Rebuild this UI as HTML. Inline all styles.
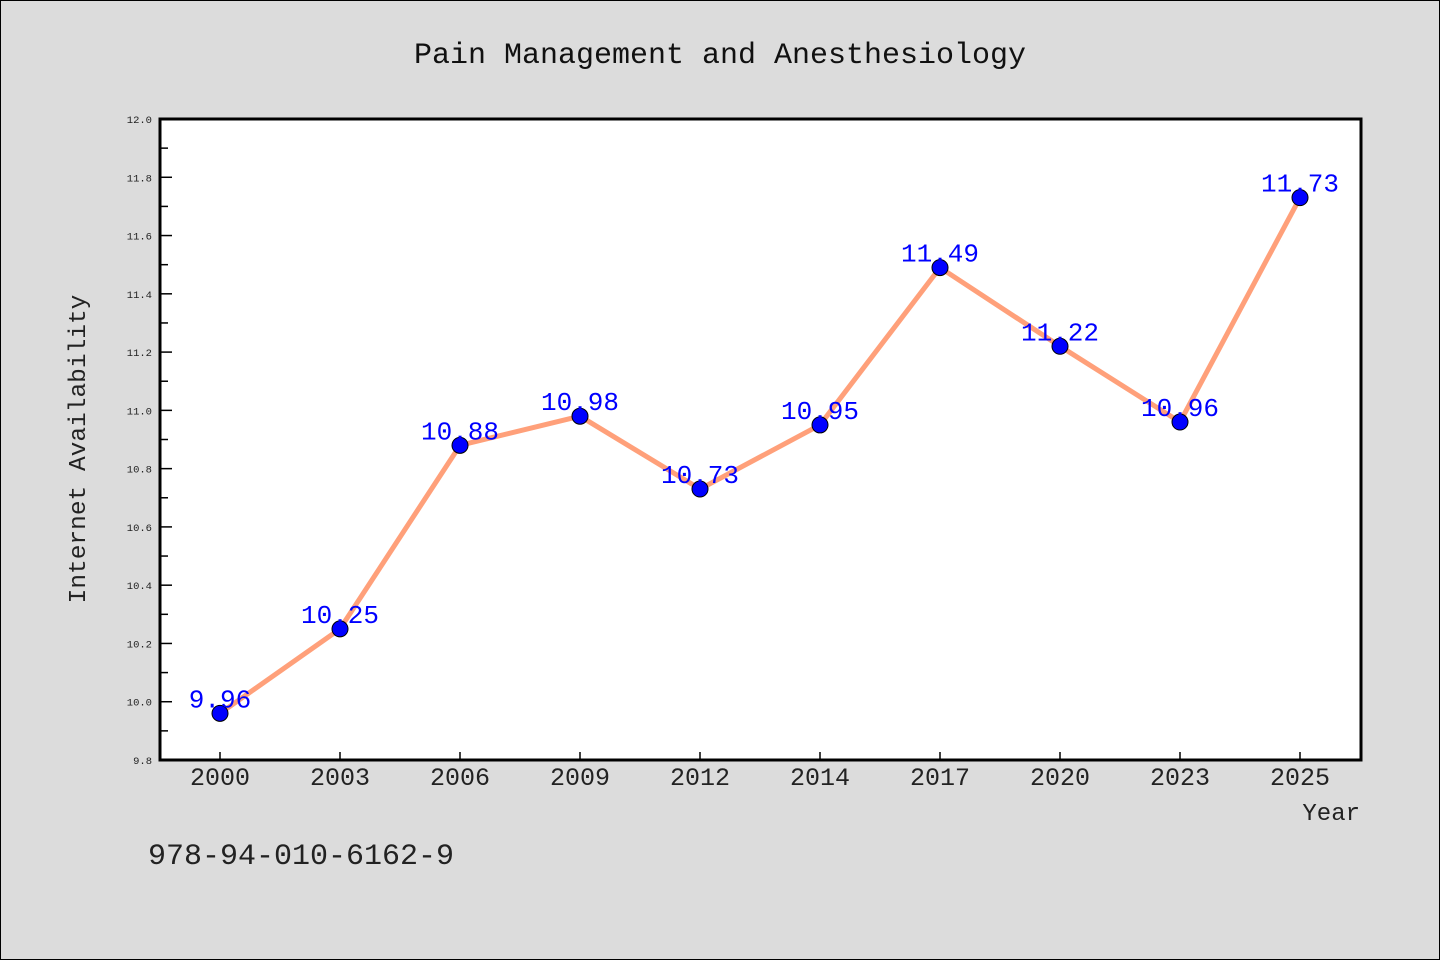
<!DOCTYPE html>
<html><head><meta charset="utf-8"><style>
body{margin:0;background:#dcdcdc}
svg{display:block}
text{font-family:"Liberation Mono","DejaVu Sans Mono",monospace}
</style></head><body>
<svg id="chart" width="1440" height="960" xmlns="http://www.w3.org/2000/svg">
<rect x="0.5" y="0.5" width="1439" height="959" fill="#dcdcdc" stroke="#000" stroke-width="1"/>
<text x="720" y="63" font-size="30" text-anchor="middle" fill="#111">Pain Management and Anesthesiology</text>
<rect x="160" y="119" width="1201" height="641" fill="#fff"/>
<g id="ticks"></g>
<g id="series"></g>
<rect x="160" y="119" width="1201" height="641" fill="none" stroke="#000" stroke-width="3"/>
<text transform="translate(85,449) rotate(-90)" font-size="24.5" text-anchor="middle" fill="#222">Internet Availability</text>
<text x="1360" y="820" font-size="24" text-anchor="end" fill="#222">Year</text>
<text x="148" y="864" font-size="30" fill="#222">978-94-010-6162-9</text>
</svg>
<script>
const categories=["2000","2003","2006","2009","2012","2014","2017","2020","2023","2025"];
const values=[9.96,10.25,10.88,10.98,10.73,10.95,11.49,11.22,10.96,11.73];
const valueLabels=["9.96","10.25","10.88","10.98","10.73","10.95","11.49","11.22","10.96","11.73"];
const yTicks=[9.8,10.0,10.2,10.4,10.6,10.8,11.0,11.2,11.4,11.6,11.8,12.0];
const yMin=9.8,yMax=12.0;
const L=160,R=1361,T=119,B=760;
const ns="http://www.w3.org/2000/svg";
function x(i){return L+60+i*(R-L-1)/categories.length;}
function y(v){return B-(v-yMin)/(yMax-yMin)*(B-T);}
function mk(tag,attrs,parent){const e=document.createElementNS(ns,tag);for(const k in attrs)e.setAttribute(k,attrs[k]);parent.appendChild(e);return e;}
const tg=document.getElementById('ticks');
yTicks.forEach((v,i)=>{
  const l=mk('line',{x1:L,x2:L+12,y1:y(v),y2:y(v),stroke:'#000','stroke-width':1.5},tg);
  
  
  const t=mk('text',{x:L-8,y:y(v)+4,'font-size':10.5,'text-anchor':'end',fill:'#222','font-family':'DejaVu Sans, sans-serif'},tg);
  t.textContent=v.toFixed(1);
  
  
  if(i<yTicks.length-1){
    const m=mk('line',{x1:L,x2:L+8,y1:y(v+0.1),y2:y(v+0.1),stroke:'#000','stroke-width':1.5},tg);
    
    
  }
});
categories.forEach((c,i)=>{
  const l=mk('line',{x1:x(i),x2:x(i),y1:B,y2:B-8,stroke:'#000','stroke-width':1.5},tg);
  
  
  const t=mk('text',{x:x(i),y:B+25,'font-size':25,'text-anchor':'middle',fill:'#222'},tg);
  t.textContent=c;
  
  
});
const sg=document.getElementById('series');
const pl=mk('polyline',{points:values.map((v,i)=>x(i)+','+y(v)).join(' '),fill:'none',stroke:'#ffa07a','stroke-width':5,'stroke-linejoin':'round'},sg);


values.forEach((v,i)=>{
  const c=mk('circle',{cx:x(i),cy:y(v),r:8,fill:'#0000ff',stroke:'#000','stroke-width':1},sg);
  
  
  const t=mk('text',{x:x(i),y:y(v)-6,'font-size':26,'text-anchor':'middle',fill:'#0000ff'},sg);
  t.textContent=valueLabels[i];
  
  
});
</script>
</body></html>
